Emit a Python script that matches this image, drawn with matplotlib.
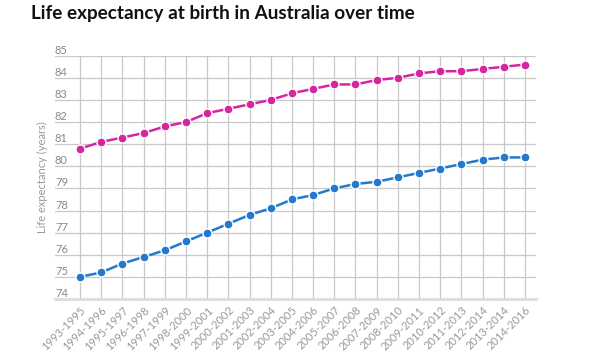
import matplotlib
matplotlib.use("Agg")
import matplotlib.pyplot as plt

categories = ["1993-1995", "1994-1996", "1995-1997", "1996-1998", "1997-1999",
              "1998-2000", "1999-2001", "2000-2002", "2001-2003", "2002-2004",
              "2003-2005", "2004-2006", "2005-2007", "2006-2008", "2007-2009",
              "2008-2010", "2009-2011", "2010-2012", "2011-2013", "2012-2014",
              "2013-2014", "2014-2016"]
female = [80.8, 81.1, 81.3, 81.5, 81.8, 82.0, 82.4, 82.6, 82.8, 83.0, 83.3,
          83.5, 83.7, 83.7, 83.9, 84.0, 84.2, 84.3, 84.3, 84.4, 84.5, 84.6]
male = [75.0, 75.2, 75.6, 75.9, 76.2, 76.6, 77.0, 77.4, 77.8, 78.1, 78.5,
        78.7, 79.0, 79.2, 79.3, 79.5, 79.7, 79.9, 80.1, 80.3, 80.4, 80.4]
yticks = list(range(74, 86))

plt.rcParams['font.family'] = ['Lato', 'DejaVu Sans']

fig = plt.figure(figsize=(6.0, 3.53), dpi=100)
ax = fig.add_axes([55/600, 1-299/353, (536-55)/600, (299-55.7)/353])

x = list(range(len(categories)))
ax.plot(x, female, color='#d6259f', lw=1.8, marker='o', ms=6.5,
        markeredgecolor='white', markeredgewidth=1.0, clip_on=False, zorder=3)
ax.plot(x, male, color='#2479cf', lw=1.8, marker='o', ms=6.5,
        markeredgecolor='white', markeredgewidth=1.0, clip_on=False, zorder=3)

ax.set_xlim(-1.18, 21.52)
ax.set_ylim(74, 85)
ax.set_xticks(x)
ax.set_xticklabels(categories, rotation=45, ha='right', va='top',
                   rotation_mode='anchor', fontsize=8, color='#999999')
ax.set_yticks(yticks)
ax.set_yticklabels([str(v) for v in yticks], fontsize=8, color='#888888')
for lbl in ax.get_yticklabels():
    lbl.set_horizontalalignment('left')
    lbl.set_verticalalignment('bottom')
ax.tick_params(axis='y', length=0, pad=0)
ax.tick_params(axis='x', length=0, pad=4)

ax.grid(True, color='#c8c8c8', lw=0.9)
ax.set_axisbelow(True)
for s in ['top', 'right', 'left']:
    ax.spines[s].set_visible(False)
ax.spines['bottom'].set_color('#dddddd')
ax.spines['bottom'].set_linewidth(2)

fig.text(42/600, 1-177/353, 'Life expectancy (years)', rotation=90,
         ha='center', va='center', fontsize=8, color='#999999')
fig.text(31/600, 1-14/353, 'Life expectancy at birth in Australia over time',
         ha='left', va='center', fontsize=13.6, fontweight='bold', color='#111111')

fig.savefig('out.png', dpi=100, facecolor='white')
